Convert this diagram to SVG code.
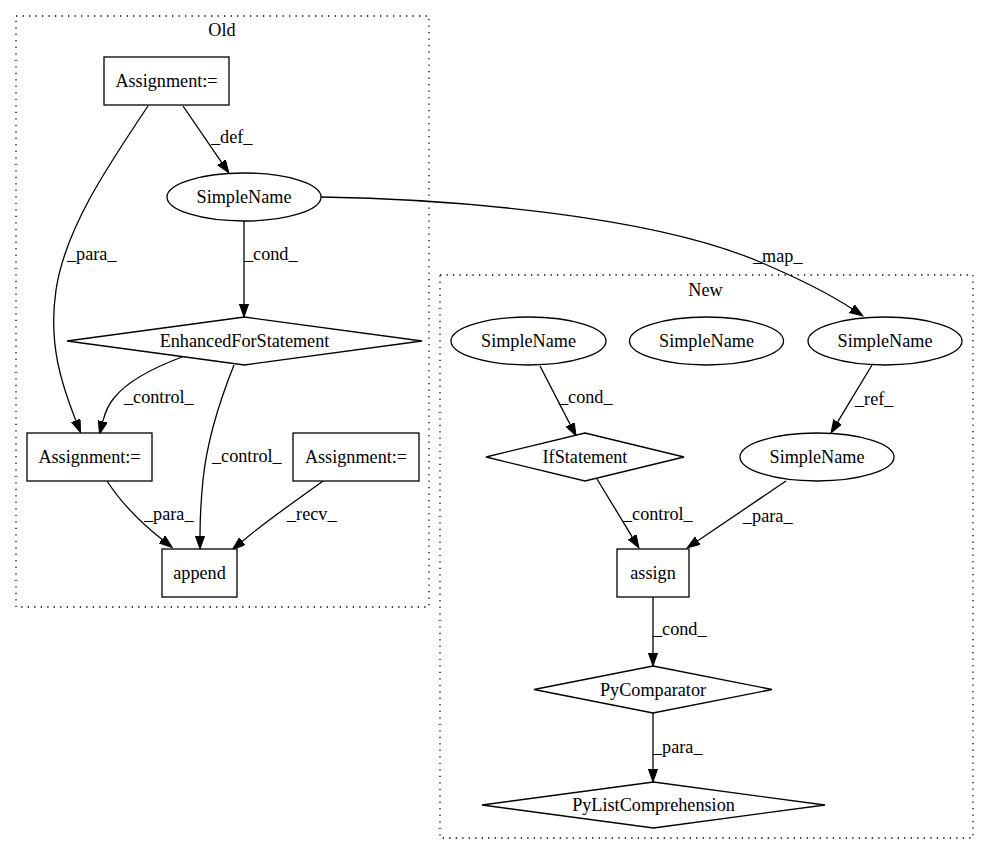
<svg xmlns="http://www.w3.org/2000/svg" width="989" height="856" viewBox="0 0 989 856">
<defs>
<marker id="ah" markerUnits="userSpaceOnUse" markerWidth="14" markerHeight="10" refX="0" refY="4.6" orient="auto">
<path d="M0,0 L13,4.6 L0,9.2 z" fill="#000" stroke="#000" stroke-width="1"/>
</marker>
<style>
text{font-family:"Liberation Serif","Times New Roman",serif;font-size:18.2px;fill:#000}
.n{text-anchor:middle}
.shape{fill:#fff;stroke:#000;stroke-width:1.3}
.cl{fill:none;stroke:#000;stroke-width:1.3;stroke-dasharray:1.3,5.2}
.e path{fill:none;stroke:#000;stroke-width:1.3;marker-end:url(#ah)}
</style>
</defs>
<rect width="989" height="856" fill="#fff"/>
<g id="cluster_old">
<rect class="cl" x="16" y="16" width="413" height="591"/>
<text class="n" x="222" y="36">Old</text>
</g>
<g id="cluster_new">
<rect class="cl" x="440" y="275" width="533" height="563"/>
<text class="n" x="705.5" y="296">New</text>
</g>
<g id="edges" class="e">
<path d="M183,106 L221.6,162.3"/>
<path d="M148,106 C105,170 65,230 56,290 C48,345 62,385 75.8,420.4"/>
<path d="M244,221 L244,304"/>
<path d="M182,357 C150,369 125,384 114,398 C108,405 105,413 102.8,421.4"/>
<path d="M234,365 C220,400 207,440 203,480 C201,500 200,520 200,536"/>
<path d="M107,481 C118,498 135,518 162.1,539.5"/>
<path d="M323,481 C300,498 270,518 242.4,541.2"/>
<path d="M321,197 C450,199 650,215 760,262 C800,279 828,293 852,308.7"/>
<path d="M540,366 L570.1,424.4"/>
<path d="M872,365 L837.7,421.9"/>
<path d="M597,479 L632.2,536.9"/>
<path d="M786,481 L697.8,540.7"/>
<path d="M653,597 L653,653"/>
<path d="M653,713 L653,769"/>
<text x="211" y="143">_def_</text>
<text x="67" y="260">_para_</text>
<text x="244" y="260">_cond_</text>
<text x="124" y="403">_control_</text>
<text x="212" y="462">_control_</text>
<text x="144" y="520">_para_</text>
<text x="287" y="520">_recv_</text>
<text x="753" y="262">_map_</text>
<text x="559" y="403">_cond_</text>
<text x="855" y="405">_ref_</text>
<text x="623" y="520">_control_</text>
<text x="743" y="522">_para_</text>
<text x="653" y="635">_cond_</text>
<text x="653" y="753">_para_</text>
</g>
<g id="old_assign_top">
<rect class="shape" x="104" y="57" width="125" height="48"/>
<text class="n" x="166.5" y="87">Assignment:=</text>
</g>
<g id="old_simplename">
<ellipse class="shape" cx="244" cy="197" rx="77" ry="24"/>
<text class="n" x="244" y="203">SimpleName</text>
</g>
<g id="old_enhancedfor">
<polygon class="shape" points="244.5,317 422,341 244.5,365 67,341"/>
<text class="n" x="244.5" y="347">EnhancedForStatement</text>
</g>
<g id="old_assign_left">
<rect class="shape" x="27" y="433" width="125" height="48"/>
<text class="n" x="89.5" y="463">Assignment:=</text>
</g>
<g id="old_assign_right">
<rect class="shape" x="293" y="433" width="126" height="48"/>
<text class="n" x="356" y="463">Assignment:=</text>
</g>
<g id="old_append">
<rect class="shape" x="162" y="549" width="75" height="48"/>
<text class="n" x="199.5" y="579">append</text>
</g>
<g id="new_simplename_1">
<ellipse class="shape" cx="528.5" cy="341" rx="77.5" ry="24"/>
<text class="n" x="528.5" y="347">SimpleName</text>
</g>
<g id="new_simplename_2">
<ellipse class="shape" cx="706.5" cy="341" rx="77" ry="24"/>
<text class="n" x="706.5" y="347">SimpleName</text>
</g>
<g id="new_simplename_3">
<ellipse class="shape" cx="885" cy="341" rx="77" ry="24"/>
<text class="n" x="885" y="347">SimpleName</text>
</g>
<g id="new_ifstatement">
<polygon class="shape" points="585,433 684,457 585,481 486,457"/>
<text class="n" x="585" y="463">IfStatement</text>
</g>
<g id="new_simplename_4">
<ellipse class="shape" cx="817" cy="457" rx="77" ry="24"/>
<text class="n" x="817" y="463">SimpleName</text>
</g>
<g id="new_assign">
<rect class="shape" x="617" y="549" width="72" height="48"/>
<text class="n" x="653" y="579">assign</text>
</g>
<g id="new_pycomparator">
<polygon class="shape" points="653,666 772,689.5 653,713 534,689.5"/>
<text class="n" x="653" y="695.5">PyComparator</text>
</g>
<g id="new_pylistcomprehension">
<polygon class="shape" points="653.5,782 825,805 653.5,828 482,805"/>
<text class="n" x="653.5" y="811">PyListComprehension</text>
</g>
</svg>
